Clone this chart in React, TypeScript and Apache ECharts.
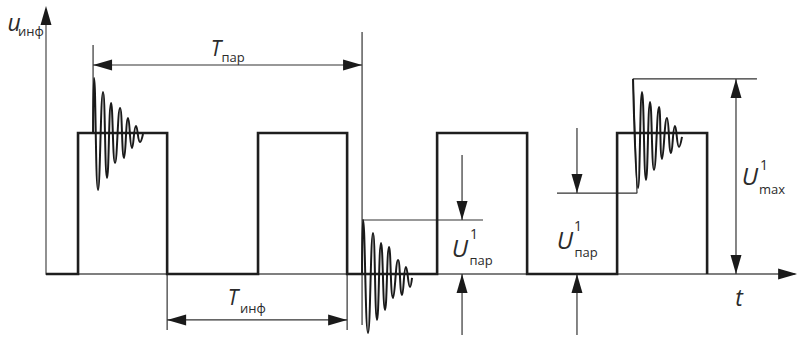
import React, { useEffect, useRef } from "react";
import * as echarts from "echarts";

// Units: time axis — 1 unit = pulse width (T_инф / 2); voltage axis — 1 unit = pulse height
const xMin = -0.356;
const xMax = 8.0;
const yMin = -0.461;
const yMax = 1.943;

// square information pulses
const pulseX = [-0.356, 0, 0, 0.99, 0.99, 2, 2, 2.99, 2.99, 3.99, 3.99, 4.99, 4.99, 5.99, 5.99, 6.99, 6.99];
const pulseY = [0, 0, 1, 1, 0, 0, 1, 1, 0, 0, 1, 1, 0, 0, 1, 1, 0];

// damped oscillations (extrema)
const osc1X = [0.167, 0.178, 0.222, 0.278, 0.322, 0.367, 0.411, 0.467, 0.511, 0.556, 0.6, 0.644, 0.689, 0.722];
const osc1Y = [1.0, 1.39, 0.596, 1.291, 0.681, 1.213, 0.787, 1.177, 0.823, 1.106, 0.894, 1.05, 0.936, 0.993];
const osc2X = [3.156, 3.167, 3.222, 3.278, 3.322, 3.367, 3.411, 3.456, 3.5, 3.556, 3.6, 3.644, 3.689, 3.711];
const osc2Y = [0, 0.383, -0.418, 0.291, -0.326, 0.22, -0.255, 0.191, -0.17, 0.099, -0.149, 0.05, -0.092, -0.028];
const osc3X = [6.167, 6.222, 6.267, 6.311, 6.356, 6.4, 6.456, 6.489, 6.544, 6.589, 6.633, 6.678, 6.711];
const osc3Y = [1.383, 0.61, 1.291, 0.667, 1.22, 0.738, 1.184, 0.816, 1.106, 0.858, 1.05, 0.901, 0.972];

// axes lines
const yAxisLine = [[-0.356, -0.005], [-0.356, 1.88]];
const xAxisLine = [[-0.356, 0], [7.97, 0]];

// guide / dimension lines
const tParLeft = [[0.167, 1.624], [0.167, 1.0]];
const tParRight = [[3.156, 1.716], [3.156, -0.362]];
const tParArrow = [[0.167, 1.482], [3.156, 1.482]];
const tInfLeft = [[0.99, 0], [0.99, -0.397]];
const tInfRight = [[2.99, 0], [2.99, -0.397]];
const tInfArrow = [[0.99, -0.326], [2.99, -0.326]];
const uPar2Top = [[3.156, 0.383], [4.5, 0.383]];
const uPar2Down = [[4.267, 0.844], [4.267, 0.383]];
const uPar2Up = [[4.267, -0.433], [4.267, 0]];
const uPar3Ref = [[5.322, 0.574], [6.211, 0.574], [6.167, 1.383], [7.544, 1.383]];
const uPar3Down = [[5.544, 1.035], [5.544, 0.574]];
const uPar3Up = [[5.544, -0.433], [5.544, 0]];
const uMaxArrow = [[7.311, 1.383], [7.311, 0]];

// arrowheads: tip position and direction (0 right, 1 left, 2 up, 3 down)
const arrowX = [-0.356, 7.99, 0.167, 3.156, 0.99, 2.99, 4.267, 4.267, 5.544, 5.544, 7.311, 7.311];
const arrowY = [1.901, 0, 1.482, 1.482, -0.326, -0.326, 0.383, 0, 0.574, 0, 1.383, 0];
const arrowDir = [2, 0, 1, 0, 1, 0, 3, 2, 3, 2, 2, 3];

const zip = (xs: number[], ys: number[]) => xs.map((x, i) => [x, ys[i]]);

const thin = (data: number[][], color = "#333", width = 1.2) => ({
  type: "line",
  data,
  showSymbol: false,
  symbol: "none",
  silent: true,
  lineStyle: { color, width },
  z: 2,
});

const osc = (data: number[][]) => ({
  type: "line",
  data,
  showSymbol: false,
  symbol: "none",
  smooth: 0.5,
  silent: true,
  lineStyle: { color: "#1a1a1a", width: 2 },
  z: 4,
});

const TXT = "#2b2b2b";
const FONT = "'Open Sans', 'Noto Sans', sans-serif";
const txt = (text: string, x: number, y: number, size: number, italic = false) => ({
  type: "text",
  x,
  y,
  silent: true,
  style: {
    text,
    fill: TXT,
    font: `${italic ? "italic " : ""}${size}px ${FONT}`,
    align: "center",
    verticalAlign: "middle",
  },
});

export default function App() {
  const ref = useRef<HTMLDivElement>(null);
  useEffect(() => {
    if (!ref.current) return;
    const chart = echarts.init(ref.current, null, { renderer: "svg" });
    const L = 19;
    const W = 11;
    chart.setOption({
      animation: false,
      backgroundColor: "#fff",
      grid: { left: 46, right: 0, top: 0, bottom: 0, containLabel: false },
      xAxis: { type: "value", min: xMin, max: xMax, show: false },
      yAxis: { type: "value", min: yMin, max: yMax, show: false },
      series: [
        thin(yAxisLine, "#555", 1.3),
        thin(xAxisLine, "#555", 1.3),
        thin(tParLeft),
        thin(tParRight),
        thin(tParArrow),
        thin(tInfLeft),
        thin(tInfRight),
        thin(tInfArrow),
        thin(uPar2Top),
        thin(uPar2Down),
        thin(uPar2Up),
        thin(uPar3Ref),
        thin(uPar3Down),
        thin(uPar3Up),
        thin(uMaxArrow),
        {
          type: "line",
          data: zip(pulseX, pulseY),
          showSymbol: false,
          symbol: "none",
          silent: true,
          lineStyle: { color: "#1e1e1e", width: 2.6, join: "miter" },
          z: 3,
        },
        osc(zip(osc1X, osc1Y)),
        osc(zip(osc2X, osc2Y)),
        osc(zip(osc3X, osc3Y)),
        {
          type: "custom",
          silent: true,
          z: 5,
          data: arrowX.map((x, i) => [x, arrowY[i], arrowDir[i]]),
          encode: { x: 0, y: 1 },
          renderItem: (params: any, api: any) => {
            const p = api.coord([api.value(0), api.value(1)]);
            const d = api.value(2);
            let pts: number[][];
            if (d === 0) pts = [[p[0], p[1]], [p[0] - L, p[1] - W / 2], [p[0] - L, p[1] + W / 2]];
            else if (d === 1) pts = [[p[0], p[1]], [p[0] + L, p[1] - W / 2], [p[0] + L, p[1] + W / 2]];
            else if (d === 2) pts = [[p[0], p[1]], [p[0] - W / 2, p[1] + L], [p[0] + W / 2, p[1] + L]];
            else pts = [[p[0], p[1]], [p[0] - W / 2, p[1] - L], [p[0] + W / 2, p[1] - L]];
            return { type: "polygon", shape: { points: pts }, style: { fill: "#1a1a1a" } };
          },
        },
      ],
      graphic: [
        txt("u", 14, 22, 23, true),
        txt("инф", 31, 31, 13),
        txt("T", 216, 48, 21, true),
        txt("пар", 233, 57, 13),
        txt("T", 233, 297, 21, true),
        txt("инф", 253, 308, 13),
        txt("U", 460, 247, 24, true),
        txt("1", 474, 233, 14),
        txt("пар", 481, 260, 13),
        txt("U", 565, 239, 24, true),
        txt("1", 578, 225, 14),
        txt("пар", 586, 252, 13),
        txt("U", 750, 175, 24, true),
        txt("1", 764, 164, 14),
        txt("max", 772, 189, 13),
        txt("t", 739, 297, 23, true),
      ],
    });
    return () => chart.dispose();
  }, []);
  return (
    <div
      ref={ref}
      style={{ position: "fixed", left: 0, top: 0, width: 798, height: 339, background: "#fff" }}
    />
  );
}
